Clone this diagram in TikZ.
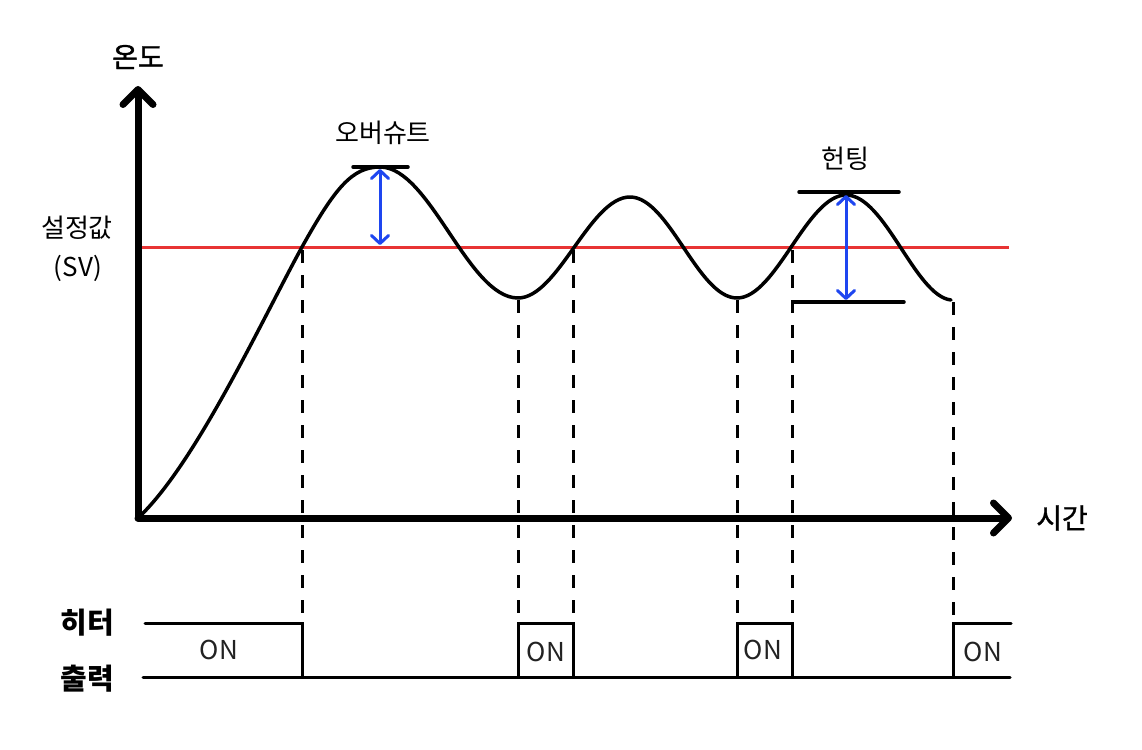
\documentclass[tikz,border=0pt]{standalone}
\usepackage{fontspec}
\setmainfont{Noto Sans CJK KR}
\newfontfamily\heavyfont[FakeBold=1.2]{Noto Sans CJK KR}
\usetikzlibrary{arrows.meta}
\begin{document}
\begin{tikzpicture}[x=1pt,y=-1pt,
  axisline/.style={line width=7pt,line cap=round,-{Straight Barb[length=15pt,width=30pt,round]}},
  curve/.style={line width=3.5pt,line cap=round,line join=round},
  svline/.style={line width=3pt,draw={rgb,255:red,232;green,52;blue,52}},
  gap/.style={line width=3pt,{Straight Barb[length=8pt,width=17pt,round]}-{Straight Barb[length=8pt,width=17pt,round]},draw={rgb,255:red,30;green,70;blue,240}},
  bar/.style={line width=3.5pt,line cap=round},
  guide/.style={line width=3pt,dash pattern=on 13pt off 12pt},
  signal/.style={line width=3pt,line cap=round,line join=miter},
  lbl/.style={font=\fontsize{26}{30}\selectfont,inner sep=0pt},
  hlbl/.style={font=\heavyfont\fontsize{28}{30}\selectfont,inner sep=0pt},
  blbl/.style={font=\fontsize{29}{32}\selectfont\bfseries,inner sep=0pt},
  onlbl/.style={font=\fontsize{26}{28}\selectfont,text={rgb,255:red,34;green,34;blue,34},inner sep=0pt}]
\useasboundingbox (0,0) rectangle (1142,749);
\fill[white] (0,0) rectangle (1142,749);
% key points
\coordinate (o) at (138,518);
\coordinate (ytip) at (138,86);
\coordinate (xtip) at (1012,518);
\coordinate (svl) at (141,247);
\coordinate (svr) at (1009,247);
% SV line
\draw[svline] (svl) -- (svr);
% response curve
\draw[curve] (o) .. controls (195,465) and (262,320) .. (302,247)
  .. controls (335,188) and (352,167) .. (380,167)
  .. controls (430,167) and (468,298) .. (518,298)
  .. controls (558,298) and (590,197) .. (630,197)
  .. controls (669,197) and (698,298) .. (737,298)
  .. controls (776,298) and (807,195) .. (846,195)
  .. controls (885,195) and (915,296) .. (951,300);
% axes
\draw[axisline] (o) -- (ytip);
\draw[axisline] (o) -- (xtip);
% overshoot
\coordinate (ob1) at (353,167); \coordinate (ob2) at (408,167);
\draw[bar] (ob1) -- (ob2);
\coordinate (oa1) at (380,169); \coordinate (oa2) at (380,245);
\draw[gap] (oa1) -- (oa2);
% hunting
\coordinate (ht1) at (799,192); \coordinate (ht2) at (899,192);
\coordinate (hb1) at (794,302); \coordinate (hb2) at (904,302);
\draw[bar] (ht1) -- (ht2);
\draw[bar] (hb1) -- (hb2);
\coordinate (ha1) at (846,195); \coordinate (ha2) at (846,300);
\draw[gap] (ha1) -- (ha2);
% guides
\coordinate (g1) at (302,250); \coordinate (s1) at (302,623); \coordinate (b1) at (302,677);
\coordinate (g2) at (518,300); \coordinate (s2) at (518,623); \coordinate (b2) at (518,677);
\coordinate (g3) at (573,250); \coordinate (s3) at (573,623); \coordinate (b3) at (573,677);
\coordinate (g4) at (737,300); \coordinate (s4) at (737,623); \coordinate (b4) at (737,677);
\coordinate (g5) at (792,250); \coordinate (s5) at (792,623); \coordinate (b5) at (792,677);
\coordinate (g6) at (953,302); \coordinate (s6) at (953,623); \coordinate (b6) at (953,677);
\foreach \i in {1,...,6} \draw[guide] (g\i) -- (s\i);
% heater output
\coordinate (hs) at (145,623);
\coordinate (bl) at (143,677); \coordinate (br) at (1010,677);
\coordinate (te) at (1011,623);
\draw[signal] (hs) -- (s1) -- (b1);
\draw[signal] (bl) -- (br);
\draw[signal] (b2) -- (s2) -- (s3) -- (b3);
\draw[signal] (b4) -- (s4) -- (s5) -- (b5);
\draw[signal] (b6) -- (s6) -- (te);
\node[onlbl] (on1) at (219,650) {ON};
\node[onlbl] (on2) at (546,652) {ON};
\node[onlbl] (on3) at (763,650) {ON};
\node[onlbl] (on4) at (983,652) {ON};
% labels
\node[hlbl] (temp) at (138,57) {온도};
\node[lbl] (sv1) at (77,228) {설정값};
\node[lbl] (sv2) at (78,268) {(SV)};
\node[lbl] (os) at (383,133) {오버슈트};
\node[lbl] (hunt) at (845,159) {헌팅};
\node[hlbl] (time) at (1062,518) {시간};
\node[blbl] (heat) at (87,623) {히터};
\node[blbl] (out) at (87,679) {출력};
\end{tikzpicture}
\end{document}
